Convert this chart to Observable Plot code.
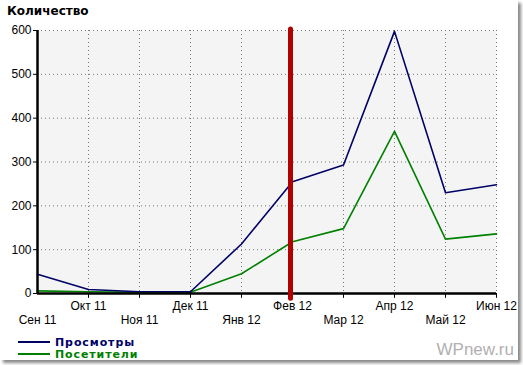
<!DOCTYPE html>
<html><head><meta charset="utf-8">
<script src="https://cdn.jsdelivr.net/npm/d3@7"></script>
<script src="https://cdn.jsdelivr.net/npm/@observablehq/plot@0.6"></script>
<style>
html,body{margin:0;padding:0;background:#fff;}
#wrap{position:relative;width:523px;height:365px;overflow:hidden;}
#frame{position:absolute;left:0;top:0;width:518px;height:360px;background:#fff;box-shadow:3px 3px 3px #8a8a8a;}
#chart{position:absolute;left:0;top:0;}
#title{position:absolute;left:7px;top:4px;font:bold 12px "DejaVu Sans",sans-serif;color:#000;}
.leg{position:absolute;left:18px;font:bold 11px/11px "DejaVu Sans",sans-serif;letter-spacing:0.9px;white-space:nowrap;}
.leg span{display:inline-block;width:32px;height:2px;vertical-align:middle;margin-right:5px;position:relative;top:-1px;}
#wm{position:absolute;right:9px;top:341px;font:17px/18px "Liberation Sans",Arial,sans-serif;color:#b0b0b0;}
</style></head><body>
<div id="wrap"><div id="frame"></div><div id="chart"></div>
<div id="title">Количество</div>
<div class="leg" style="top:337px;color:#000066"><span style="background:#000066"></span>Просмотры</div>
<div class="leg" style="top:349px;color:#008000"><span style="background:#008000"></span>Посетители</div>
<div id="wm">WPnew.ru</div>
</div>
<script>
const months = ["Сен 11","Окт 11","Ноя 11","Дек 11","Янв 12","Фев 12","Мар 12","Апр 12","Май 12","Июн 12"];
const views = [44, 9, 4, 4, 113, 255, 293, 598, 230, 248];
const visitors = [6, 4, 3, 3, 45, 118, 148, 370, 124, 136];
const yTicks = [0, 100, 200, 300, 400, 500, 600];
const marker = "Фев 12";

const rows = months.map((m, i) => ({m, i, views: views[i], visitors: visitors[i]}));
const font = '"Liberation Sans", Arial, sans-serif';

const plot = Plot.plot({
  width: 523, height: 365,
  marginLeft: 37, marginRight: 27, marginTop: 30, marginBottom: 72,
  style: {background: "transparent", fontFamily: font, fontSize: "12px", color: "#000"},
  x: {type: "point", domain: months, padding: 0, axis: null},
  y: {domain: [0, 600], axis: null},
  marks: [
    Plot.frame({fill: "#f4f4f4", stroke: null}),
    Plot.gridX(months, {stroke: "#777", strokeOpacity: 1, strokeDasharray: "1,3"}),
    Plot.gridY(yTicks.slice(1), {stroke: "#777", strokeOpacity: 1, strokeDasharray: "1,3"}),
    Plot.ruleX(months.slice(1), {y1: 0, y2: -11, stroke: "#000", strokeWidth: 1}),
    Plot.axisY({ticks: yTicks, tickSize: 4, tickPadding: 2, fontSize: 12, fontFamily: font, label: null, stroke: "#000"}),
    Plot.text(rows.filter(d => d.i % 2 === 0), {x: "m", y: 0, text: "m", dy: 27, fontSize: 12, fontFamily: font, fill: "#000"}),
    Plot.text(rows.filter(d => d.i % 2 === 1), {x: "m", y: 0, text: "m", dy: 13, fontSize: 12, fontFamily: font, fill: "#000"}),
    Plot.line(rows, {x: "m", y: "visitors", stroke: "#008000", strokeWidth: 1.6}),
    Plot.line(rows, {x: "m", y: "views", stroke: "#000066", strokeWidth: 1.6}),
    Plot.ruleY([0], {stroke: "#000", strokeWidth: 2.5}),
    Plot.ruleX([months[0]], {y1: 0, y2: 600, stroke: "#000", strokeWidth: 2.5}),
    Plot.ruleX([marker], {y1: 602, y2: -12, dx: -2, stroke: "#b00000", strokeWidth: 5, strokeLinecap: "round"})
  ]
});
document.getElementById("chart").appendChild(plot);
</script>
</body></html>
